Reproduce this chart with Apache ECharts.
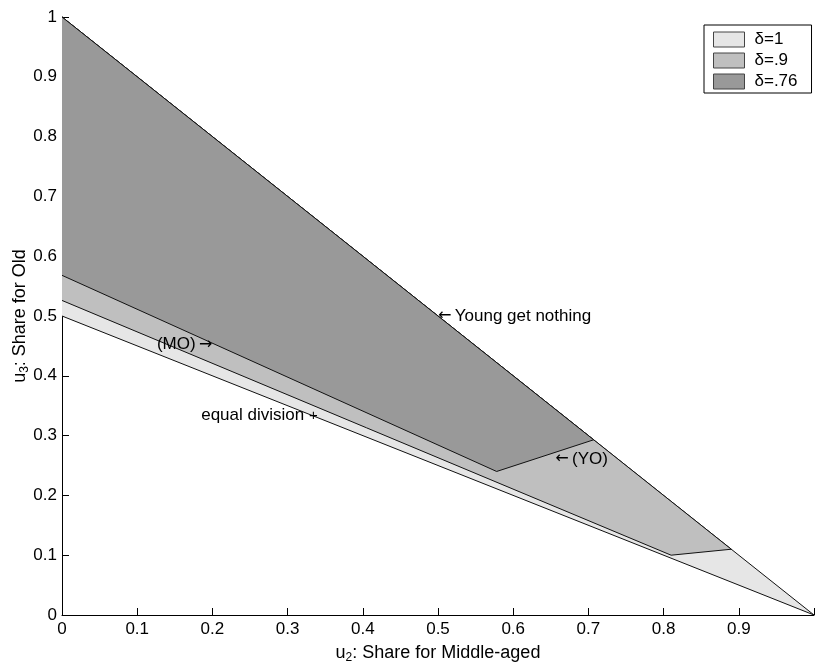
<!DOCTYPE html>
<html>
<head>
<meta charset="utf-8">
<script src="https://cdn.jsdelivr.net/npm/echarts@6/dist/echarts.min.js"></script>
<style>
html,body{margin:0;padding:0;background:#fff;}
#chart{width:815px;height:667px;}
</style>
</head>
<body>
<div id="chart"></div>
<script>
// Data
const seriesNames = ['δ=1', 'δ=.9', 'δ=.76'];
const delta1 = [[0, 0.5], [1, 0], [0, 1]];
const delta09 = [[0, 0.526], [0.81, 0.100], [0.89, 0.110], [0, 1]];
const delta076 = [[0, 0.568], [0.578, 0.240], [0.707, 0.293], [0, 1]];
const tickValues = [0, 0.1, 0.2, 0.3, 0.4, 0.5, 0.6, 0.7, 0.8, 0.9, 1];
const annotations = [
  { text: 'Young get nothing', arrow: '←', point: [0.5, 0.5], side: 'right' },
  { text: '(MO)', arrow: '→', point: [0.2, 0.452], side: 'left' },
  { text: 'equal division', arrow: '+', point: [1 / 3, 1 / 3], side: 'left' },
  { text: '(YO)', arrow: '←', point: [0.656, 0.261], side: 'right' }
];

const FONT = '"Liberation Sans", Arial, Helvetica, sans-serif';
const colors = ['#e6e6e6', '#bfbfbf', '#999999'];
const polys = [delta1, delta09, delta076];

function polySeries(name, data, color) {
  return {
    type: 'custom',
    name: name,
    data: data,
    encode: { x: 0, y: 1 },
    itemStyle: { color: color, borderColor: '#333', borderWidth: 1 },
    renderItem: function (params, api) {
      if (params.dataIndex !== 0) return null;
      const pts = data.map(p => api.coord(p));
      return {
        type: 'group',
        children: [
          { type: 'polygon', shape: { points: pts }, style: { fill: color, stroke: null } },
          { type: 'polyline', shape: { points: pts }, style: { fill: null, stroke: '#111', lineWidth: 1 } }
        ]
      };
    }
  };
}

const chart = echarts.init(document.getElementById('chart'), null, { renderer: 'canvas' });

const series = polys.map((d, i) => polySeries(seriesNames[i], d, colors[i]));
series.push({
  type: 'scatter',
  name: 'annotations',
  symbolSize: 0,
  silent: true,
  z: 10,
  itemStyle: { opacity: 1 },
  data: annotations.map(a => ({
    value: a.point,
    label: {
      show: true,
      formatter: a.side === 'right' ? '{r|' + a.arrow + '} {t|' + a.text + '}' : (a.arrow === '+' ? '{t|' + a.text + ' }{p|+}' : '{t|' + a.text + '} {r|' + a.arrow + '}'),
      position: a.side,
      distance: 0,
      offset: a.arrow === '+' ? [5, 0] : [0, 0],
      rich: {
        t: { color: '#000', fontSize: 17, fontFamily: FONT },
        r: { color: '#000', fontSize: 16, fontFamily: '"DejaVu Sans", sans-serif' },
        p: { color: '#000', fontSize: 15, fontFamily: FONT }
      }
    }
  }))
});

chart.setOption({
  backgroundColor: '#fff',
  animation: false,
  textStyle: { fontFamily: FONT },
  grid: { left: 62, right: 1, top: 17, bottom: 52, containLabel: false, outerBoundsMode: 'none' },
  legend: {
    data: seriesNames,
    orient: 'vertical',
    left: 704,
    top: 25,
    padding: [6, 14, 3, 9],
    itemGap: 4,
    itemWidth: 31,
    itemHeight: 15,
    icon: 'rect',
    backgroundColor: '#fff',
    borderColor: '#000',
    borderWidth: 1,
    borderRadius: 0,
    selectedMode: false,
    itemStyle: { borderColor: '#444', borderWidth: 1 },
    textStyle: { fontSize: 17, fontFamily: FONT, color: '#000', padding: [0, 0, 0, 5], lineHeight: 15 }
  },
  xAxis: {
    type: 'value',
    min: 0, max: 1, interval: 0.1,
    name: '{a|u}{s|2}{a|: Share for Middle-aged}',
    nameLocation: 'middle',
    nameGap: 27,
    nameMoveOverlap: false,
    nameTextStyle: {
      rich: {
        a: { fontSize: 18, fontFamily: FONT, color: '#000', lineHeight: 20 },
        s: { fontSize: 12, fontFamily: FONT, color: '#000', padding: [10, 0, 0, 0], verticalAlign: 'bottom' }
      }
    },
    axisLine: { show: true, lineStyle: { color: '#000', width: 1 } },
    axisTick: { show: true, inside: true, length: 7, lineStyle: { color: '#000' } },
    splitLine: { show: false },
    axisLabel: {
      color: '#000', fontSize: 17, fontFamily: FONT, margin: 6,
      formatter: v => (Math.abs(v - 1) < 1e-9 ? '' : String(Math.round(v * 10) / 10))
    }
  },
  yAxis: {
    type: 'value',
    min: 0, max: 1, interval: 0.1,
    name: '{a|u}{s|3}{a|: Share for Old}',
    nameLocation: 'middle',
    nameGap: 31,
    nameMoveOverlap: false,
    nameRotate: 90,
    nameTextStyle: {
      rich: {
        a: { fontSize: 18, fontFamily: FONT, color: '#000', lineHeight: 20 },
        s: { fontSize: 12, fontFamily: FONT, color: '#000', padding: [10, 0, 0, 0], verticalAlign: 'bottom' }
      }
    },
    axisLine: { show: true, lineStyle: { color: '#000', width: 1 } },
    axisTick: { show: true, inside: true, length: 7, lineStyle: { color: '#000' } },
    splitLine: { show: false },
    axisLabel: {
      color: '#000', fontSize: 17, fontFamily: FONT, margin: 5,
      formatter: v => String(Math.round(v * 10) / 10)
    }
  },
  series: series
});
</script>
</body>
</html>
